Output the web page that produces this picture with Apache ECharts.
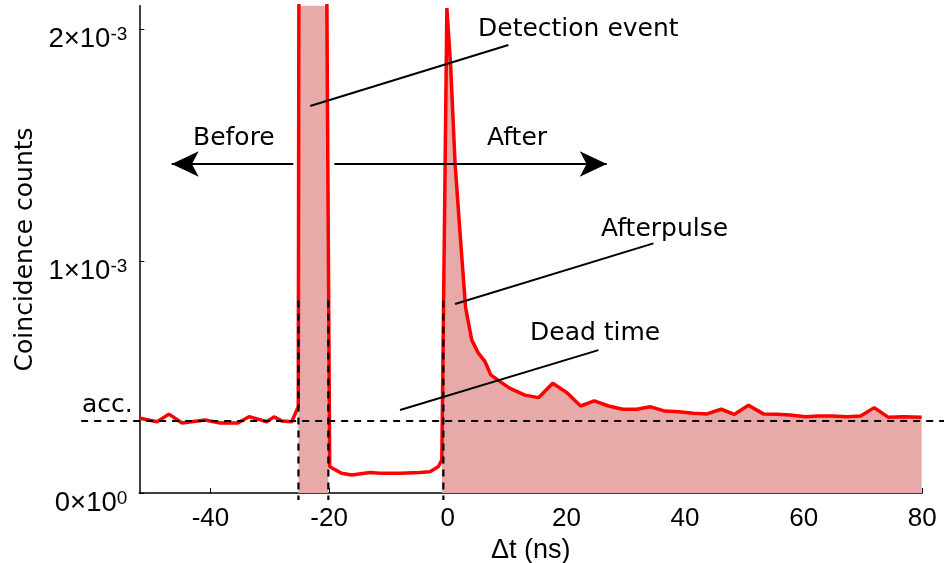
<!DOCTYPE html>
<html><head><meta charset="utf-8">
<script src="https://cdn.jsdelivr.net/npm/echarts@6/dist/echarts.min.js"></script>
<style>html,body{margin:0;padding:0;background:#fff}#c{width:944px;height:563px}</style>
</head><body><div id="c"></div>
<script>
// ---- data (y values in units of 1e-3) ----
const timeNs = [-51.9,-49.0,-47.0,-44.8,-40.9,-38.4,-35.4,-33.5,-30.5,-29.3,-27.9,-26.3,-25.2,-25.05,-20.6,
  -19.9,-17.9,-16.2,-13.1,-11.4,-8.0,-4.7,-3.0,-1.6,-1.0,-0.15,0.5,1.23,2.07,3.0,4.05,5.16,6.29,7.25,8.82,10.5,
  13.0,15.3,17.7,20.1,22.4,24.7,27.1,29.5,31.9,34.1,36.6,38.9,41.4,43.7,46.1,48.3,50.7,53.2,55.5,57.7,60.3,62.5,
  64.8,67.3,69.6,71.9,74.3,76.8,79.9];
const counts = [0.322,0.307,0.340,0.302,0.315,0.302,0.302,0.329,0.307,0.328,0.310,0.307,0.372,3.0,3.0,
  0.113,0.085,0.078,0.088,0.085,0.085,0.088,0.092,0.113,0.142,2.09,1.836,1.422,1.121,0.80,0.659,0.603,0.566,0.509,0.480,0.451,
  0.422,0.411,0.473,0.432,0.375,0.397,0.375,0.361,0.361,0.372,0.353,0.350,0.344,0.341,0.361,0.339,0.378,0.341,0.339,0.336,0.329,0.332,
  0.332,0.329,0.332,0.368,0.326,0.329,0.326];
const xTicks = [-40,-20,0,20,40,60,80];
const yTicks = [0,1,2];
const yExponents = ['0','-3','-3'];
const accLevel = 0.31;
const windowEdges = [-25.17,-20.13,-0.74];   // dashed vertical lines
const afterStart = -1.0;                     // shaded "after" region starts here
const dashedTop = 0.83, dashedBottom = -0.03;
const accLineX = [-61.8, 84];
// annotation leader lines [x1,y1,x2,y2]
const leaderDetection = [-23.19,1.668,10.22,1.931];
const leaderAfterpulse = [1.23,0.815,34.67,1.076];
const leaderDeadTime = [-8.04,0.358,25.4,0.616];
const arrowBefore = [-26.04,1.418,-46.54,1.418];
const arrowAfter = [-19.12,1.418,26.81,1.418];

const RED='#ff0000', FILL='#e8a9a9';
const curve = timeNs.map((t,i)=>[t,counts[i]]);
const afterFill = curve.filter(p=>p[0]>=afterStart);
const seg = a => [{coord:[a[0],a[1]]},{coord:[a[2],a[3]]}];

const chart = echarts.init(document.getElementById('c'),null,{renderer:'canvas'});
const textStyle = {fontFamily:'DejaVu Sans',fontSize:25,fill:'#000'};
const texts = [
  {type:'text',left:478,top:17,style:Object.assign({text:'Detection event'},textStyle)},
  {type:'text',left:193,top:126,style:Object.assign({text:'Before'},textStyle)},
  {type:'text',left:487,top:126,style:Object.assign({text:'After'},textStyle)},
  {type:'text',left:601,top:217,style:Object.assign({text:'Afterpulse'},textStyle)},
  {type:'text',left:530,top:321,style:Object.assign({text:'Dead time'},textStyle)},
  {type:'text',left:82,top:393,style:Object.assign({text:'acc.'},textStyle)}
];
chart.setOption({
  animation:false,
  grid:{left:139.3,right:21.7,top:5.8,bottom:70,containLabel:false,outerBoundsMode:'none'},
  xAxis:{type:'value',min:-52,max:80,
    name:'Δt (ns)',nameLocation:'middle',nameGap:35,
    nameTextStyle:{fontFamily:'Liberation Sans',fontSize:27,color:'#000'},
    axisLine:{onZero:false,lineStyle:{color:'#000',width:1.5}},
    axisTick:{inside:true,length:5,customValues:xTicks,lineStyle:{color:'#000',width:1}},
    axisLabel:{customValues:xTicks,margin:13,fontFamily:'Liberation Sans',fontSize:26,color:'#000'},
    splitLine:{show:false}},
  yAxis:{type:'value',min:0,max:2.1,
    name:'Coincidence counts',nameLocation:'middle',nameGap:101,nameRotate:90,
    nameTextStyle:{fontFamily:'DejaVu Sans',fontSize:25,color:'#000'},
    axisLine:{show:true,onZero:false,lineStyle:{color:'#000',width:1.5}},
    axisTick:{inside:true,length:5,customValues:yTicks,lineStyle:{color:'#000',width:1}},
    axisLabel:{customValues:yTicks,margin:12,padding:[20,0,0,0],
      formatter:(v)=>{const i=yTicks.indexOf(v);return '{b|'+v+'×10}{s|'+yExponents[i]+'}';},
      rich:{b:{fontFamily:'Liberation Sans',fontSize:27.5,color:'#000',verticalAlign:'bottom',lineHeight:28},
            s:{fontFamily:'Liberation Sans',fontSize:19,color:'#000',verticalAlign:'top',lineHeight:19}}},
    splitLine:{show:false}},
  series:[
    {type:'line',name:'fill',z:1,data:afterFill,symbol:'none',lineStyle:{width:0,opacity:0},
     areaStyle:{color:FILL,opacity:1},
     markArea:{silent:true,z:1,itemStyle:{color:FILL,opacity:1},data:[[{xAxis:windowEdges[0]},{xAxis:windowEdges[1]}]]}},
    {type:'line',name:'counts',z:3,data:curve,symbol:'none',lineStyle:{color:RED,width:3.5}},
    {type:'line',z:5,data:[],markLine:{silent:true,symbol:['none','none'],label:{show:false},
      lineStyle:{color:'#000',width:2,type:'solid'},
      data:[seg(leaderDetection),seg(leaderAfterpulse),seg(leaderDeadTime)]}},
    {type:'line',z:5,data:[],markLine:{silent:true,symbol:['none','arrow'],symbolSize:[19,27],label:{show:false},
      lineStyle:{color:'#000',width:2,type:'solid'},itemStyle:{color:'#000'},
      data:[seg(arrowBefore),seg(arrowAfter)]}}
  ],
  graphic:texts
});
// dashed reference lines (extend beyond the plot area) placed via the chart's own scales
const px = p => chart.convertToPixel({gridIndex:0}, p);
const dashed = [];
const a0 = px([accLineX[0],accLevel]), a1 = px([accLineX[1],accLevel]);
dashed.push({type:'line',z:50,silent:true,shape:{x1:a0[0],y1:a0[1],x2:a1[0],y2:a1[1]},style:{stroke:'#000',lineWidth:2,lineDash:[7,6]}});
windowEdges.forEach(x=>{
  const t = px([x,dashedTop]), b = px([x,dashedBottom]);
  dashed.push({type:'line',z:50,silent:true,shape:{x1:t[0],y1:t[1],x2:b[0],y2:b[1]},style:{stroke:'#000',lineWidth:2.2,lineDash:[7,6]}});
});
chart.setOption({graphic:texts.concat(dashed)});
</script></body></html>
